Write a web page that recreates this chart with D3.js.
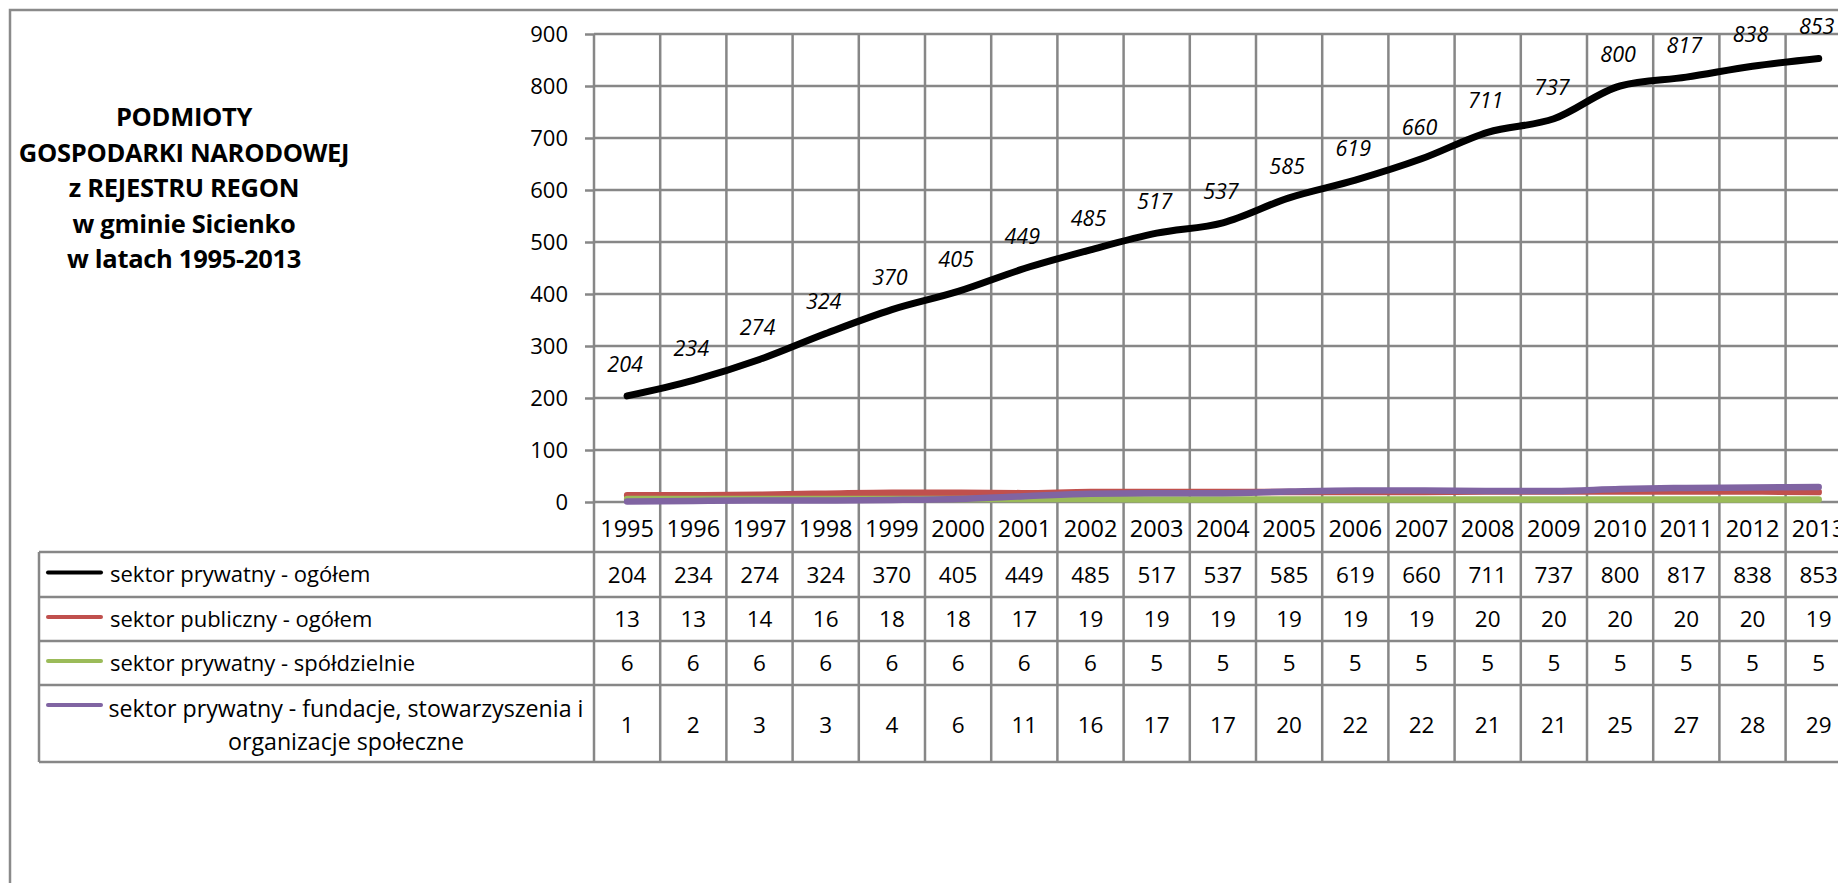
<!DOCTYPE html>
<html lang="pl">
<head>
    <meta charset="UTF-8">
    <script src="https://d3js.org/d3.v7.min.js"></script>
    <title>Podmioty gospodarki narodowej</title>
    <style>
        body { margin: 0; padding: 0; background: #fff; }
        svg { display: block; }
        text { font-family: "Open Sans", sans-serif; fill: #000; }
    </style>
</head>
<body>
<script>

    // data
    var years = ['1995', '1996', '1997', '1998', '1999', '2000', '2001', '2002', '2003', '2004',
        '2005', '2006', '2007', '2008', '2009', '2010', '2011', '2012', '2013']
    var seriesNames = [
        'sektor prywatny - ogółem',
        'sektor publiczny - ogółem',
        'sektor prywatny - spółdzielnie',
        'sektor prywatny - fundacje, stowarzyszenia i organizacje społeczne'
    ]
    var prywatnyOgolem = [204, 234, 274, 324, 370, 405, 449, 485, 517, 537, 585, 619, 660, 711, 737, 800, 817, 838, 853]
    var publicznyOgolem = [13, 13, 14, 16, 18, 18, 17, 19, 19, 19, 19, 19, 19, 20, 20, 20, 20, 20, 19]
    var spoldzielnie = [6, 6, 6, 6, 6, 6, 6, 6, 5, 5, 5, 5, 5, 5, 5, 5, 5, 5, 5]
    var fundacje = [1, 2, 3, 3, 4, 6, 11, 16, 17, 17, 20, 22, 22, 21, 21, 25, 27, 28, 29]
    var yTicks = [0, 100, 200, 300, 400, 500, 600, 700, 800, 900]
    var titleLines = ['PODMIOTY', 'GOSPODARKI NARODOWEJ', 'z REJESTRU REGON', 'w gminie Sicienko', 'w latach 1995-2013']

    var colors = ['#000000', '#c0504d', '#9bbb59', '#8064a2']
    var allSeries = [prywatnyOgolem, publicznyOgolem, spoldzielnie, fundacje]
    var gridColor = '#878787'

    var W = 1838, H = 883
    var plotLeft = 594, colW = 66.2
    var tableLeft = 39
    var rowLines = [552, 597, 641, 685, 762]

    var svg = d3.select('body').append('svg')
        .attr('width', W)
        .attr('height', H)

    // outer chart border
    svg.append('rect')
        .attr('x', 10).attr('y', 10)
        .attr('width', 2000).attr('height', 1000)
        .attr('fill', 'none')
        .attr('stroke', '#8a8a8a')
        .attr('stroke-width', 2.5)

    // title
    svg.append('g').selectAll('text')
        .data(titleLines)
        .enter()
        .append('text')
        .attr('x', 184)
        .attr('y', function (d, i) { return 117 + i * 35.5 })
        .attr('dy', '0.36em')
        .attr('text-anchor', 'middle')
        .attr('font-weight', 'bold')
        .attr('font-size', 25.5)
        .attr('letter-spacing', -0.3)
        .text(function (d) { return d })

    var x = d3.scaleBand()
        .domain(years)
        .range([plotLeft, plotLeft + colW * years.length])
        .padding(0)

    var y = d3.scaleLinear()
        .domain([0, 900])
        .range([502, 34])

    // horizontal grid + y axis
    var yAxis = d3.axisLeft(y)
        .tickValues(yTicks)
        .tickSize(9)
        .tickPadding(17)

    var gy = svg.append('g')
        .attr('transform', 'translate(' + plotLeft + ',0)')
        .call(yAxis)
    gy.select('.domain').remove()
    gy.selectAll('line').attr('stroke', gridColor).attr('stroke-width', 2.5)
    gy.selectAll('text').attr('font-size', 22).attr('font-family', '"Open Sans", sans-serif')

    svg.append('g').selectAll('line')
        .data(yTicks)
        .enter()
        .append('line')
        .attr('x1', plotLeft)
        .attr('x2', x.range()[1])
        .attr('y1', function (d) { return y(d) })
        .attr('y2', function (d) { return y(d) })
        .attr('stroke', gridColor)
        .attr('stroke-width', 2.5)

    // vertical lines between columns (plot + table)
    var bounds = years.map(function (d) { return x(d) })
    bounds.push(x.range()[1])
    svg.append('g').selectAll('line')
        .data(bounds)
        .enter()
        .append('line')
        .attr('x1', function (d) { return d })
        .attr('x2', function (d) { return d })
        .attr('y1', y(900))
        .attr('y2', rowLines[rowLines.length - 1])
        .attr('stroke', gridColor)
        .attr('stroke-width', 2.5)

    // table horizontal lines
    svg.append('g').selectAll('line')
        .data(rowLines)
        .enter()
        .append('line')
        .attr('x1', tableLeft)
        .attr('x2', x.range()[1])
        .attr('y1', function (d) { return d })
        .attr('y2', function (d) { return d })
        .attr('stroke', gridColor)
        .attr('stroke-width', 2.5)

    svg.append('line')
        .attr('x1', tableLeft).attr('x2', tableLeft)
        .attr('y1', rowLines[0]).attr('y2', rowLines[rowLines.length - 1])
        .attr('stroke', gridColor)
        .attr('stroke-width', 2.5)

    // year labels
    svg.append('g').selectAll('text')
        .data(years)
        .enter()
        .append('text')
        .attr('x', function (d) { return x(d) + x.bandwidth() / 2 })
        .attr('y', 529)
        .attr('dy', '0.36em')
        .attr('text-anchor', 'middle')
        .attr('font-size', 23.5)
        .text(function (d) { return d })

    // series lines
    var line = d3.line()
        .x(function (d, i) { return x(years[i]) + x.bandwidth() / 2 })
        .y(function (d) { return y(d) })
        .curve(d3.curveMonotoneX)

    svg.append('g').selectAll('path')
        .data(allSeries)
        .enter()
        .append('path')
        .attr('d', function (d) { return line(d) })
        .attr('fill', 'none')
        .attr('stroke', function (d, i) { return colors[i] })
        .attr('stroke-width', function (d, i) { return i == 0 ? 7 : 6.5 })
        .attr('stroke-linecap', 'round')
        .attr('stroke-linejoin', 'round')

    // data labels for the private sector total
    svg.append('g').selectAll('text')
        .data(prywatnyOgolem)
        .enter()
        .append('text')
        .attr('x', function (d, i) { return x(years[i]) + x.bandwidth() / 2 - 2 })
        .attr('y', function (d) { return y(d) - 32 })
        .attr('dy', '0.36em')
        .attr('text-anchor', 'middle')
        .attr('font-size', 21.5)
        .attr('font-style', 'italic')
        .text(function (d) { return d })

    // table rows
    var rowCenters = []
    for (var r = 0; r < 4; r++) {
        rowCenters.push((rowLines[r] + rowLines[r + 1]) / 2)
    }

    var rows = svg.append('g').selectAll('g')
        .data(allSeries)
        .enter()
        .append('g')

    rows.append('line')
        .attr('x1', 48).attr('x2', 101)
        .attr('y1', function (d, i) { return i < 3 ? rowCenters[i] - 2 : 705 })
        .attr('y2', function (d, i) { return i < 3 ? rowCenters[i] - 2 : 705 })
        .attr('stroke', function (d, i) { return colors[i] })
        .attr('stroke-width', 4)
        .attr('stroke-linecap', 'round')

    rows.each(function (d, i) {
        var g = d3.select(this)
        if (i < 3) {
            g.append('text')
                .attr('x', 110)
                .attr('y', rowCenters[i])
                .attr('dy', '0.36em')
                .attr('font-size', 22)
                .text(seriesNames[i])
        } else {
            g.append('text')
                .attr('x', 346).attr('y', 709)
                .attr('dy', '0.36em')
                .attr('text-anchor', 'middle')
                .attr('font-size', 23.2)
                .text('sektor prywatny - fundacje, stowarzyszenia i')
            g.append('text')
                .attr('x', 346).attr('y', 742)
                .attr('dy', '0.36em')
                .attr('text-anchor', 'middle')
                .attr('font-size', 23.2)
                .text('organizacje społeczne')
        }
        g.selectAll('text.val')
            .data(d)
            .enter()
            .append('text')
            .attr('class', 'val')
            .attr('x', function (v, j) { return x(years[j]) + x.bandwidth() / 2 })
            .attr('y', i < 3 ? rowCenters[i] : 725)
            .attr('dy', '0.36em')
            .attr('text-anchor', 'middle')
            .attr('font-size', 22.5)
            .text(function (v) { return v })
    })

</script>
</body>
</html>
